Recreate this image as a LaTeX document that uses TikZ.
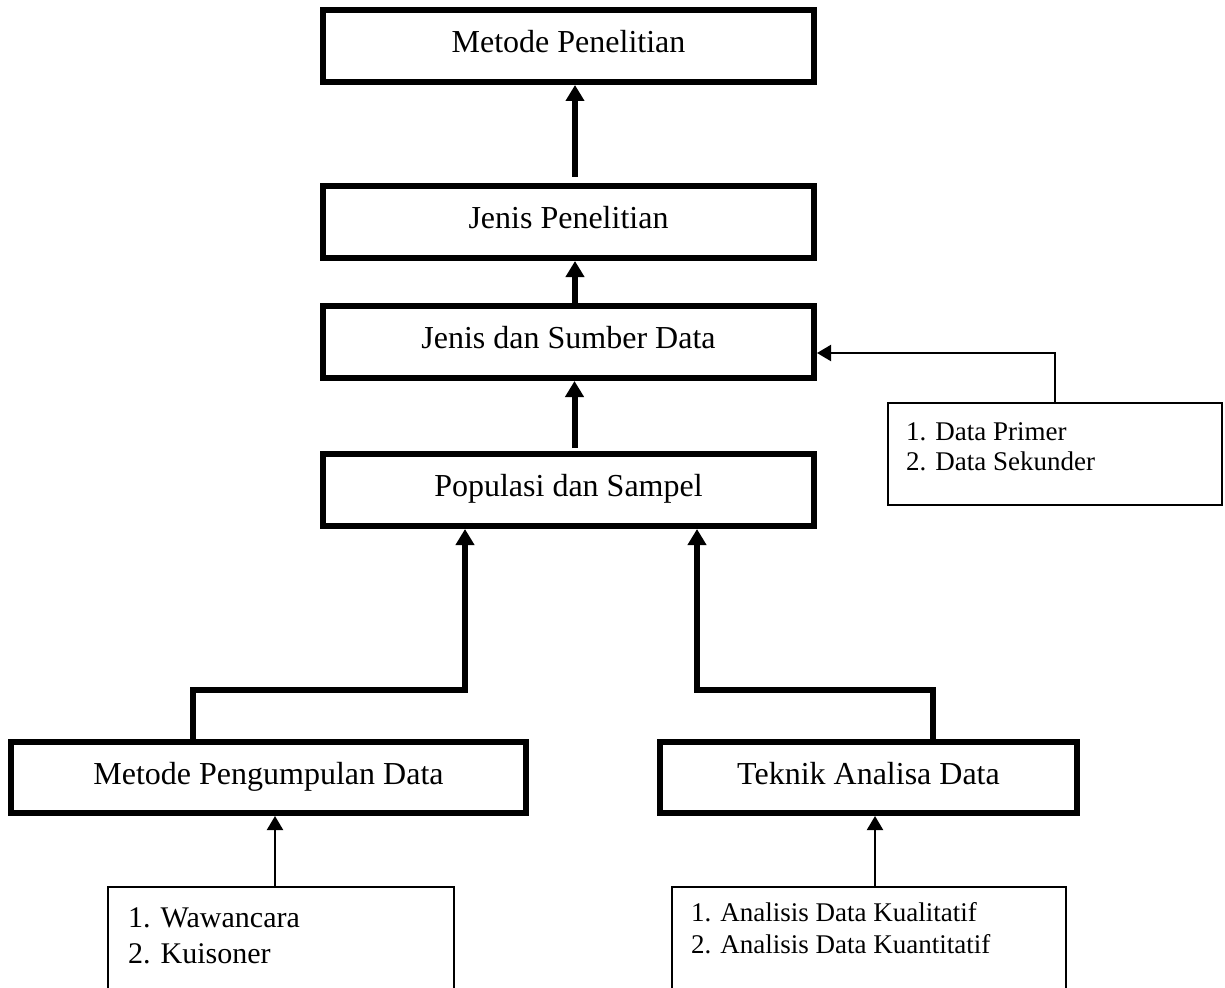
\documentclass[tikz,border=0pt]{standalone}
\usepackage{fontspec}
\setmainfont{Liberation Serif}
\usetikzlibrary{arrows.meta}
\begin{document}
\begin{tikzpicture}[x=1pt,y=-1pt,
  bigbox/.style={draw, line width=6pt, rectangle, inner sep=0pt,
    minimum height=72pt, font=\fontsize{32}{38}\selectfont,
    text height=24pt, text depth=11pt},
  listbox/.style={draw, line width=2pt, rectangle, inner sep=0pt},
  listline/.style={anchor=base west, inner sep=0pt},
  bigarrow/.style={line width=6pt, -{Triangle[width=18pt,length=16pt]}},
  smallarrow/.style={line width=2pt, -{Triangle[width=16pt,length=14pt]}},
]
% page area
\useasboundingbox (0,0) rectangle (1225,987);
\fill[white] (0,0) rectangle (1225,987);
\clip (0,0) rectangle (1225,987);

% main chain
\node[bigbox, minimum width=491pt] (mp)  at (568.5,46)  {Metode Penelitian};
\node[bigbox, minimum width=491pt] (jp)  at (568.5,222) {Jenis Penelitian};
\node[bigbox, minimum width=491pt] (jsd) at (568.5,342) {Jenis dan Sumber Data};
\node[bigbox, minimum width=491pt] (ps)  at (568.5,490) {Populasi dan Sampel};
\node[bigbox, minimum width=515pt, minimum height=71pt] (mpd) at (268.5,777.5) {Metode Pengumpulan Data};
\node[bigbox, minimum width=417pt, minimum height=71pt] (tad) at (868.5,777.5) {Teknik Analisa Data};

% detail boxes
\node[listbox, minimum width=334pt, minimum height=102pt] (src) at (1055,454) {};
\node[listline, font=\fontsize{27}{30}\selectfont] (src1) at (906,440) {1. Data Primer};
\node[listline, font=\fontsize{27}{30}\selectfont] (src2) at (906,470) {2. Data Sekunder};

\node[listbox, minimum width=346pt, minimum height=140pt, anchor=north] (col) at (281,886) {};
\node[listline, font=\fontsize{30}{36}\selectfont] (col1) at (128,927) {1. Wawancara};
\node[listline, font=\fontsize{30}{36}\selectfont] (col2) at (128,963) {2. Kuisoner};

\node[listbox, minimum width=394pt, minimum height=140pt, anchor=north] (ana) at (869,886) {};
\node[listline, font=\fontsize{27}{32}\selectfont] (ana1) at (691,921) {1. Analisis Data Kualitatif};
\node[listline, font=\fontsize{27}{32}\selectfont] (ana2) at (691,953) {2. Analisis Data Kuantitatif};

% bend points of the joined connectors
\coordinate (lbend) at (193,690);
\coordinate (rbend) at (933,690);

% connectors
\draw[bigarrow] ([xshift=6.5pt,yshift=6pt]jp.north) -- ([xshift=6.5pt]mp.south);
\draw[bigarrow] ([xshift=6.5pt]jsd.north) -- ([xshift=6.5pt]jp.south);
\draw[bigarrow] ([xshift=6pt,yshift=3pt]ps.north) -- ([xshift=6pt]jsd.south);
\draw[bigarrow] (mpd.north -| lbend) -- (lbend) -| ([xshift=-103.5pt]ps.south);
\draw[bigarrow] (tad.north -| rbend) -- (rbend) -| ([xshift=128.5pt]ps.south);
\draw[smallarrow] (src.north) |- ([yshift=-11pt]jsd.east);
\draw[smallarrow] ([xshift=-6pt]col.north) -- ([xshift=6.5pt]mpd.south);
\draw[smallarrow] ([xshift=6pt]ana.north) -- ([xshift=6.5pt]tad.south);
\end{tikzpicture}
\end{document}
